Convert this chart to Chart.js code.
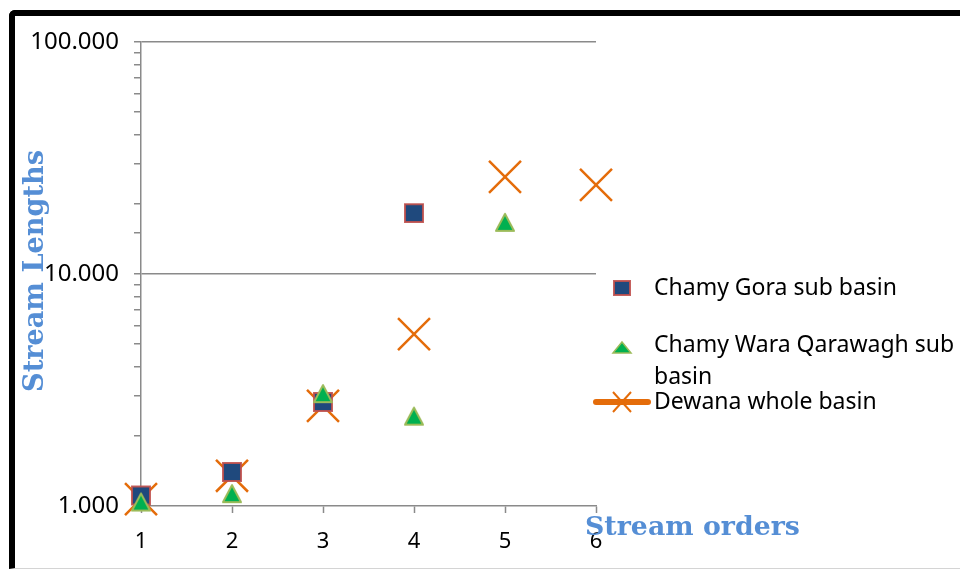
<!DOCTYPE html>
<html>
<head>
<meta charset="utf-8">
<script src="https://cdn.jsdelivr.net/npm/chart.js@4.4.1/dist/chart.umd.min.js"></script>
<style>
  html, body { margin: 0; padding: 0; background: #fff; }
  #wrap { position: relative; width: 960px; height: 570px; overflow: hidden; }
  #frame {
    position: absolute; left: 9px; top: 10px; width: 1000px; height: 552px;
    border-left: 6px solid #000; border-top: 6px solid #000;
    border-top-left-radius: 6px; border-bottom: 1px solid #d4d4d4;
  }
  #chart { position: absolute; left: 0; top: 0; }
</style>
</head>
<body>
<div id="wrap">
  <div id="frame"></div>
  <canvas id="chart" width="960" height="570"></canvas>
</div>
<script>
// Stream order (x) against mean stream length (y, log scale)
const streamOrders = [1, 2, 3, 4, 5, 6];
const goraLengths = [1.11, 1.40, 2.81, 18.3];
const waraLengths = [1.04, 1.13, 3.05, 2.44, 16.7];
const dewanaLengths = [1.07, 1.35, 2.70, 5.51, 26.2, 24.2];
const yTickValues = [1, 10, 100];
const seriesNames = ['Chamy Gora sub basin', 'Chamy Wara Qarawagh sub basin', 'Dewana whole basin'];
const keyLines = [['Chamy Gora sub basin'], ['Chamy Wara Qarawagh sub', 'basin'], ['Dewana whole basin']];
const xTitle = 'Stream orders';
const yTitle = 'Stream Lengths';

const C = {
  squareFill: '#1F497D', squareEdge: 'rgba(192,80,77,0.9)',
  triFill: '#00B050', triEdge: '#9BBB59',
  cross: '#E46C0A', axis: '#8a8a8a', title: '#558ED5'
};

function points(values) {
  return values.map((v, i) => ({ x: streamOrders[i], y: v }));
}

// Triangle drawn centred on its bounding box
function triangleMarker(w, h, fill, stroke, lw) {
  const c = document.createElement('canvas');
  c.width = Math.ceil(w + lw * 3);
  c.height = Math.ceil(h + lw * 3);
  const g = c.getContext('2d');
  const cx = c.width / 2, cy = c.height / 2;
  g.beginPath();
  g.moveTo(cx, cy - h / 2);
  g.lineTo(cx + w / 2, cy + h / 2);
  g.lineTo(cx - w / 2, cy + h / 2);
  g.closePath();
  g.fillStyle = fill; g.fill();
  g.lineWidth = lw; g.strokeStyle = stroke; g.lineJoin = 'round'; g.stroke();
  return c;
}

const triImg = triangleMarker(18, 17, C.triFill, C.triEdge, 2);
const isDecade = v => yTickValues.some(t => Math.abs(t - v) < 1e-9);

const titlesAndKey = {
  id: 'titlesAndKey',
  afterDraw(chart) {
    const ctx = chart.ctx;
    ctx.save();
    // axis titles
    ctx.fillStyle = C.title;
    ctx.textBaseline = 'middle';
    const fit = (text, w) => {
      ctx.font = 'bold 100px "DejaVu Serif"';
      return 100 * w / ctx.measureText(text).width;
    };
    let s = fit(xTitle, 215);
    ctx.font = 'bold ' + s + 'px "DejaVu Serif"';
    ctx.textAlign = 'left';
    ctx.fillText(xTitle, 585, 528);

    s = fit(yTitle, 242);
    ctx.save();
    ctx.translate(36, 271);
    ctx.rotate(-Math.PI / 2);
    ctx.font = 'bold ' + s + 'px "DejaVu Serif"';
    ctx.textAlign = 'center';
    ctx.fillText(yTitle, 0, 0);
    ctx.restore();

    // key
    const mx = 622, tx = 654;
    ctx.font = '23px "Noto Sans"';
    ctx.fillStyle = '#000';
    ctx.textAlign = 'left';
    ctx.textBaseline = 'middle';
    const rows = [288, 345, 402];
    keyLines.forEach((lines, i) => {
      lines.forEach((ln, j) => ctx.fillText(ln, tx, rows[i] + j * 32));
    });
    // square marker
    ctx.fillStyle = C.squareFill;
    ctx.strokeStyle = C.squareEdge;
    ctx.lineWidth = 2;
    ctx.fillRect(mx - 8, rows[0] - 7, 16, 14);
    ctx.strokeRect(mx - 8, rows[0] - 7, 16, 14);
    // triangle marker
    ctx.beginPath();
    ctx.moveTo(mx, rows[1] - 3);
    ctx.lineTo(mx + 9, rows[1] + 8);
    ctx.lineTo(mx - 9, rows[1] + 8);
    ctx.closePath();
    ctx.fillStyle = C.triFill; ctx.fill();
    ctx.strokeStyle = C.triEdge; ctx.lineWidth = 1.5; ctx.stroke();
    // line + cross marker
    ctx.strokeStyle = C.cross;
    ctx.lineCap = 'round';
    ctx.lineWidth = 6;
    ctx.beginPath(); ctx.moveTo(596, rows[2]); ctx.lineTo(648, rows[2]); ctx.stroke();
    ctx.lineCap = 'butt';
    ctx.lineWidth = 2;
    ctx.beginPath();
    ctx.moveTo(mx - 9, rows[2] - 10); ctx.lineTo(mx + 9, rows[2] + 10);
    ctx.moveTo(mx + 9, rows[2] - 10); ctx.lineTo(mx - 9, rows[2] + 10);
    ctx.stroke();
    ctx.restore();
  }
};

new Chart(document.getElementById('chart'), {
  type: 'scatter',
  data: {
    datasets: [
      {
        label: seriesNames[0], data: points(goraLengths), order: 1, clip: false,
        pointStyle: 'rect', pointRadius: 12.7, pointBorderWidth: 2,
        pointBackgroundColor: C.squareFill, pointBorderColor: C.squareEdge
      },
      {
        label: seriesNames[1], data: points(waraLengths), order: 0, clip: false,
        pointStyle: triImg, pointRadius: 11
      },
      {
        label: seriesNames[2], data: points(dewanaLengths), order: 2, clip: false,
        pointStyle: 'crossRot', pointRadius: 22.6, pointBorderWidth: 2.5,
        pointBorderColor: C.cross, pointBackgroundColor: C.cross
      }
    ]
  },
  options: {
    responsive: false,
    animation: false,
    events: [],
    layout: { padding: { left: 0, top: 42, right: 364, bottom: 0 } },
    plugins: { legend: { display: false }, tooltip: { enabled: false } },
    scales: {
      x: {
        type: 'linear', min: 1, max: 6, position: 'bottom',
        ticks: {
          stepSize: 1, color: '#000', padding: 16,
          font: { family: 'Noto Sans', size: 22 }
        },
        grid: { drawOnChartArea: false, tickLength: 7, tickColor: C.axis, tickWidth: 1.5 },
        border: { color: C.axis, width: 1.5 },
        afterFit: s => { s.height = 64; }
      },
      y: {
        type: 'logarithmic', min: 1, max: 100,
        ticks: {
          autoSkip: false, color: '#000', padding: 15,
          font: { family: 'Noto Sans', size: 24 },
          callback: v => isDecade(v) ? Number(v).toFixed(3) : ''
        },
        grid: {
          color: c => (c.tick && isDecade(c.tick.value) && c.tick.value > 1) ? C.axis : 'rgba(0,0,0,0)',
          lineWidth: 1.5, tickLength: 7, tickColor: C.axis, tickWidth: 1.5
        },
        border: { color: C.axis, width: 1.5 },
        afterFit: s => { s.width = 141; }
      }
    }
  },
  plugins: [titlesAndKey]
});
</script>
</body>
</html>
